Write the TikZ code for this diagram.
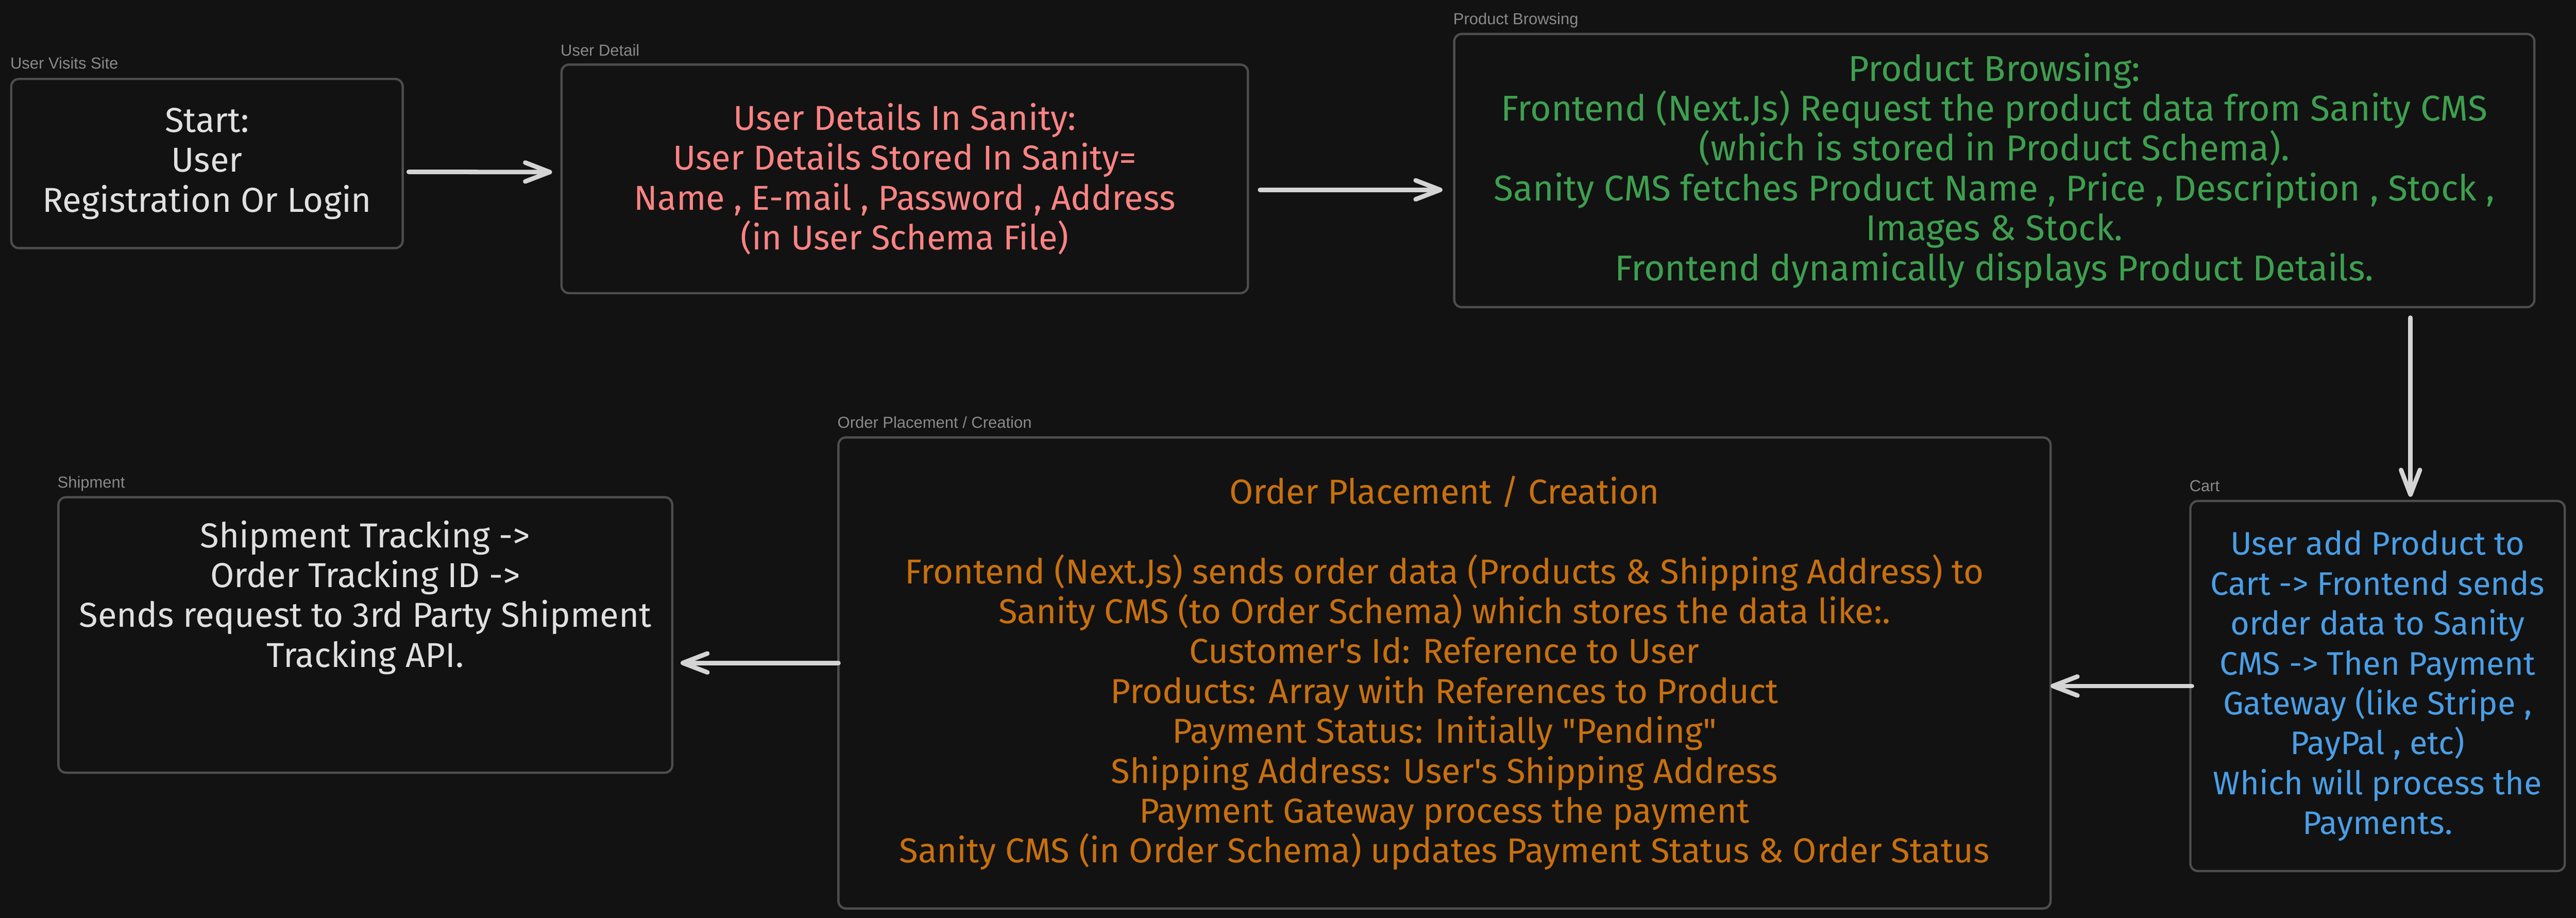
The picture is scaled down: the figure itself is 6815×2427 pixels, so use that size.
\documentclass[tikz,border=0pt]{standalone}
\usepackage{fontspec}
\setmainfont{Fira Sans}[Ligatures=TeXOff]
\newfontfamily\lblfont{Liberation Sans}
\usetikzlibrary{arrows.meta}
\definecolor{bg}{HTML}{121212}
\definecolor{boxline}{HTML}{4D4D4D}
\definecolor{lblgray}{HTML}{8A8A8A}
\definecolor{arrowgray}{HTML}{D4D4D4}
\definecolor{txtwhite}{HTML}{E0E0E0}
\definecolor{txtred}{HTML}{FF8383}
\definecolor{txtgreen}{HTML}{3E9F4F}
\definecolor{txtorange}{HTML}{C8700E}
\definecolor{txtblue}{HTML}{4A9EE6}
\begin{document}
\begin{tikzpicture}[x=0.01cm, y=-0.01cm,
    box/.style={draw=boxline, line width=1.7pt, rounded corners=0.2cm, align=center, inner sep=0pt, font=\fontsize{26}{30}\selectfont},
    lbl/.style={anchor=base west, text=lblgray, inner sep=0pt, font=\lblfont\fontsize{12}{14}\selectfont},
    arr/.style={draw=arrowgray, line width=3.4pt, line cap=round, -{Straight Barb[length=0.65cm, width=0.5cm, round]}}]
          \fill[bg] (0,0) rectangle (6815,2427);
          \node[box, minimum width=10.35cm, minimum height=4.47cm, text=txtwhite] (usite) at (547.5,432.5)
            {Start:\\User\\Registration Or Login};
          \node[box, minimum width=18.15cm, minimum height=6.04cm, text=txtred] (udetail) at (2393.5,473)
            {User Details In Sanity:\\User Details Stored In Sanity=\\Name , E-mail , Password , Address\\(in User Schema File)};
          \node[box, minimum width=28.56cm, minimum height=7.22cm, text=txtgreen, font=\fontsize{27}{30}\selectfont] (browse) at (5276,451)
            {Product Browsing:\\Frontend (Next.Js) Request the product data from Sanity CMS\\(which is stored in Product Schema).\\Sanity CMS fetches Product Name , Price , Description , Stock ,\\Images \& Stock.\\Frontend dynamically displays Product Details.};
          \node[box, minimum width=9.90cm, minimum height=9.78cm, text=txtblue, font=\fontsize{24.5}{30}\selectfont] (cart) at (6290,1814)
            {User add Product to\\Cart -> Frontend sends\\order data to Sanity\\CMS -> Then Payment\\Gateway (like Stripe ,\\PayPal , etc)\\Which will process the\\Payments.};
          \node[box, minimum width=32.05cm, minimum height=12.45cm, text=txtorange] (order) at (3821.5,1779.5)
            {Order Placement / Creation\\[30pt]Frontend (Next.Js) sends order data (Products \& Shipping Address) to\\Sanity CMS (to Order Schema) which stores the data like:.\\Customer's Id: Reference to User\\Products: Array with References to Product\\Payment Status: Initially "Pending"\\Shipping Address: User's Shipping Address\\Payment Gateway process the payment\\Sanity CMS (in Order Schema) updates Payment Status \& Order Status};
          \node[box, minimum width=16.23cm, minimum height=7.28cm] (ship) at (966.5,1679) {};
          \node[box, draw=none, text=txtwhite] (shiptext) at (966.5,1580)
            {Shipment Tracking ->\\Order Tracking ID ->\\Sends request to 3rd Party Shipment\\Tracking API.};
          \node[lbl] (usitelbl) at ([yshift=0.24cm]usite.north west) {User Visits Site};
          \node[lbl] (udetaillbl) at ([yshift=0.2cm]udetail.north west) {User Detail};
          \node[lbl] (browselbl) at ([yshift=0.22cm]browse.north west) {Product Browsing};
          \node[lbl] (cartlbl) at ([yshift=0.22cm]cart.north west) {Cart};
          \node[lbl] (orderlbl) at ([yshift=0.22cm]order.north west) {Order Placement / Creation};
          \node[lbl] (shiplbl) at ([yshift=0.22cm]ship.north west) {Shipment};
          \draw[arr] ([shift={(13,22)}]usite.east) -- ([shift={(-22,-18)}]udetail.west);
          \draw[arr] ([shift={(29,29)}]udetail.east) -- ([shift={(-28,51)}]browse.west);
          \draw[arr] ([shift={(1101,25)}]browse.south) -- ([shift={(87,-8)}]cart.north);
          \draw[arr] ([shift={(7,0)}]cart.west) -- ([shift={(-3,34.5)}]order.east);
          \draw[arr] ([shift={(3,-26.5)}]order.west) -- ([shift={(19,74)}]ship.east);
\end{tikzpicture}
\end{document}
